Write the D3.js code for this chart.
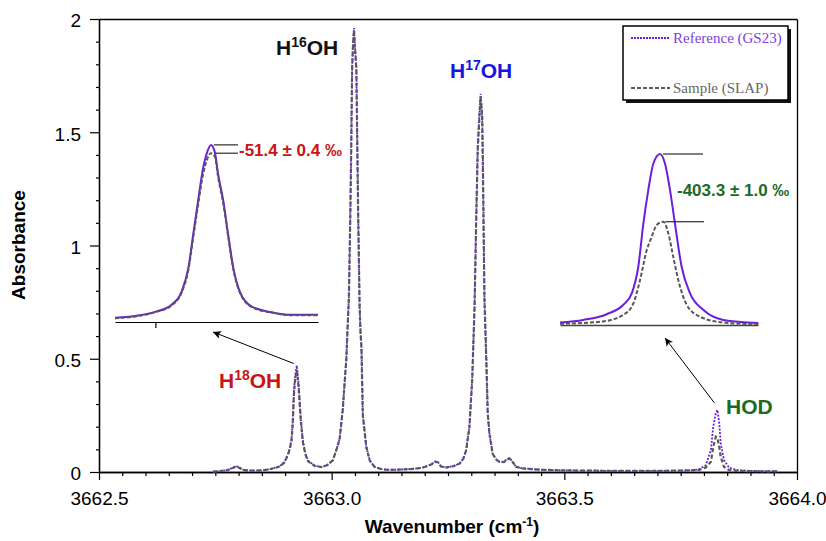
<!DOCTYPE html>
<html>
<head>
<meta charset="utf-8">
<script src="https://cdn.jsdelivr.net/npm/d3@7"></script>
<style>
  body { margin: 0; background: #fff; }
  text { font-family: "Liberation Sans", Arial, Helvetica, sans-serif; }
</style>
</head>
<body>
<div id="chart"></div>
<script>
// ---- main spectrum (wavenumber cm-1, absorbance) ----
// start of scan + H18OH line
const wnH18 = [3662.745, 3662.760, 3662.775, 3662.787, 3662.795, 3662.803, 3662.812, 3662.830, 3662.850, 3662.867,
  3662.888, 3662.899, 3662.908, 3662.9135, 3662.9163, 3662.919, 3662.9217, 3662.925, 3662.929, 3662.9335,
  3662.938, 3662.943, 3662.949, 3662.9635, 3662.978, 3662.990];
const refH18 = [0.002, 0.004, 0.008, 0.018, 0.027, 0.018, 0.008, 0.006, 0.007, 0.012,
  0.025, 0.045, 0.090, 0.140, 0.220, 0.360, 0.430, 0.470, 0.390, 0.240,
  0.140, 0.085, 0.050, 0.028, 0.022, 0.030];
const smpH18 = [0.002, 0.004, 0.008, 0.017, 0.025, 0.017, 0.008, 0.006, 0.007, 0.012,
  0.024, 0.043, 0.086, 0.134, 0.211, 0.345, 0.412, 0.450, 0.374, 0.230,
  0.134, 0.082, 0.048, 0.027, 0.022, 0.030];

// H16OH line
const wnH16 = [3663.002, 3663.009, 3663.017, 3663.024, 3663.028, 3663.0315, 3663.034, 3663.037, 3663.040, 3663.042,
  3663.044, 3663.046, 3663.048, 3663.050, 3663.053, 3663.055, 3663.057, 3663.060, 3663.062, 3663.064,
  3663.067, 3663.0745, 3663.082, 3663.092, 3663.105, 3663.117, 3663.135, 3663.150, 3663.170];
const refH16 = [0.050, 0.090, 0.145, 0.280, 0.400, 0.500, 0.630, 0.770, 1.130, 1.430,
  1.790, 1.900, 1.960, 1.880, 1.790, 1.460, 1.130, 0.740, 0.620, 0.550,
  0.250, 0.110, 0.050, 0.023, 0.014, 0.010, 0.010, 0.011, 0.013];
const smpH16 = [0.050, 0.090, 0.144, 0.278, 0.398, 0.498, 0.627, 0.766, 1.125, 1.425,
  1.780, 1.890, 1.950, 1.875, 1.780, 1.455, 1.125, 0.736, 0.617, 0.548,
  0.249, 0.110, 0.050, 0.023, 0.014, 0.010, 0.010, 0.011, 0.013];

// H17OH line with its two small neighbours
const wnH17 = [3663.185, 3663.200, 3663.215, 3663.222, 3663.228, 3663.235, 3663.246, 3663.262, 3663.275, 3663.283,
  3663.289, 3663.296, 3663.302, 3663.307, 3663.3105, 3663.314, 3663.3176, 3663.320, 3663.3234, 3663.325,
  3663.3283, 3663.332, 3663.3354, 3663.339, 3663.346, 3663.355, 3663.3605, 3663.370, 3663.376, 3663.382,
  3663.388, 3663.396, 3663.410, 3663.430, 3663.450];
const refH17 = [0.016, 0.022, 0.035, 0.047, 0.045, 0.025, 0.020, 0.026, 0.038, 0.060,
  0.097, 0.200, 0.410, 0.730, 1.110, 1.440, 1.585, 1.670, 1.585, 1.350,
  0.770, 0.520, 0.260, 0.170, 0.080, 0.052, 0.045, 0.045, 0.055, 0.062,
  0.048, 0.023, 0.016, 0.013, 0.010];
const smpH17 = [0.016, 0.022, 0.034, 0.045, 0.043, 0.024, 0.020, 0.026, 0.037, 0.059,
  0.096, 0.198, 0.406, 0.724, 1.100, 1.428, 1.572, 1.656, 1.572, 1.340,
  0.765, 0.516, 0.258, 0.169, 0.080, 0.052, 0.045, 0.044, 0.053, 0.060,
  0.047, 0.023, 0.016, 0.013, 0.010];

// HOD line + end of scan
const wnHOD = [3663.500, 3663.550, 3663.600, 3663.650, 3663.700, 3663.750, 3663.780, 3663.790, 3663.804, 3663.815,
  3663.820, 3663.8255, 3663.829, 3663.833, 3663.836, 3663.843, 3663.854, 3663.872, 3663.900, 3663.930, 3663.959];
const refHOD = [0.007, 0.006, 0.005, 0.005, 0.005, 0.006, 0.009, 0.012, 0.030, 0.097,
  0.200, 0.260, 0.274, 0.215, 0.127, 0.053, 0.019, 0.008, 0.005, 0.004, 0.004];
const smpHOD = [0.007, 0.006, 0.005, 0.005, 0.005, 0.006, 0.008, 0.009, 0.020, 0.045,
  0.110, 0.156, 0.150, 0.110, 0.068, 0.023, 0.008, 0.005, 0.004, 0.003, 0.003];

// ---- insets ----
const inset18Wn = [3662.8950, 3662.9022, 3662.9074, 3662.9125, 3662.9156, 3662.9177, 3662.9192, 3662.9207, 3662.9223, 3662.9233,
  3662.9247, 3662.9259, 3662.9269, 3662.9285, 3662.9300, 3662.9316, 3662.9336, 3662.9373, 3662.9434, 3662.9496, 3662.9578];
const inset18Ref = [0.011, 0.017, 0.027, 0.046, 0.081, 0.144, 0.233, 0.322, 0.411, 0.446,
  0.471, 0.451, 0.393, 0.322, 0.233, 0.144, 0.081, 0.041, 0.026, 0.019, 0.019];
const inset18Smp = [0.010, 0.016, 0.026, 0.044, 0.078, 0.139, 0.225, 0.311, 0.395, 0.428,
  0.449, 0.440, 0.385, 0.315, 0.228, 0.140, 0.079, 0.040, 0.025, 0.018, 0.018];

const insetHodWn = [3663.7660, 3663.7807, 3663.7954, 3663.8059, 3663.8112, 3663.8153, 3663.8185, 3663.8216, 3663.8248,
  3663.8290, 3663.8321, 3663.8353, 3663.8384, 3663.8426, 3663.8479, 3663.8562, 3663.8688, 3663.8909];
const insetHodRef = [0.004, 0.008, 0.017, 0.032, 0.050, 0.092, 0.160, 0.213, 0.255,
  0.270, 0.255, 0.213, 0.160, 0.092, 0.050, 0.024, 0.008, 0.003];
const insetHodSmpWn = [3663.7660, 3663.7912, 3663.8059, 3663.8122, 3663.8164, 3663.8206, 3663.8237, 3663.8269,
  3663.8311, 3663.8342, 3663.8373, 3663.8405, 3663.8458, 3663.8542, 3663.8688, 3663.8909];
const insetHodSmp = [0.002, 0.005, 0.016, 0.034, 0.071, 0.118, 0.139, 0.158,
  0.163, 0.145, 0.108, 0.071, 0.032, 0.013, 0.004, 0.001];

// ---- ticks and labels ----
const xMajor = [3662.5, 3663.0, 3663.5, 3664.0];
const yMajor = [0, 0.5, 1, 1.5, 2];
const legendLabels = ["Reference (GS23)", "Sample (SLAP)"];
const peakLabels = [["H", "16", "OH"], ["H", "17", "OH"], ["H", "18", "OH"], ["HOD", "", ""]];
const deltaLabels = ["-51.4 \u00b1 0.4 \u2030", "-403.3 \u00b1 1.0 \u2030"];

const wavenumber = [...wnH18, ...wnH16, ...wnH17, ...wnHOD];
const reference = [...refH18, ...refH16, ...refH17, ...refHOD];
const sample = [...smpH18, ...smpH16, ...smpH17, ...smpHOD];

const purple = "#6b1fdc";
const grey = "#585858";
const red = "#c81414";
const blue = "#1616dc";
const green = "#1b6b24";

const svg = d3.select("#chart")
  .append("svg")
  .attr("width", 826)
  .attr("height", 541);

const x = d3.scaleLinear().domain([3662.5, 3664.0]).range([99, 797]);
const y = d3.scaleLinear().domain([0, 2]).range([472, 19]);

svg.append("defs")
  .append("marker")
  .attr("id", "arrow")
  .attr("markerUnits", "userSpaceOnUse")
  .attr("viewBox", "0 0 10 10")
  .attr("refX", 10)
  .attr("refY", 5)
  .attr("markerWidth", 10)
  .attr("markerHeight", 8)
  .attr("orient", "auto")
  .append("path")
  .attr("d", "M0,0 L10,5 L0,10 L2.5,5 z")
  .attr("fill", "#000");

// ---- axes ----
const styleAxis = g => {
  g.select(".domain").attr("stroke", "#000").attr("stroke-width", 1.3);
  g.selectAll(".tick line").attr("stroke", "#000").attr("stroke-width", 1.2);
  g.selectAll("text")
    .attr("font-family", "'Liberation Sans', Arial, sans-serif")
    .attr("font-size", 19)
    .attr("fill", "#000");
};

const xMinor = d3.range(1, 30).map(i => 3662.5 + i * 0.05).filter(v => Math.abs((v - 3662.5) / 0.5 - Math.round((v - 3662.5) / 0.5)) > 1e-6);
const yMinor = d3.range(1, 20).map(i => i * 0.1).filter(v => Math.abs(v * 2 - Math.round(v * 2)) > 1e-6);

svg.append("g")
  .attr("transform", "translate(0,472)")
  .call(d3.axisBottom(x).tickValues(xMinor).tickSize(4).tickSizeOuter(0).tickFormat(""))
  .call(styleAxis);

svg.append("g")
  .attr("transform", "translate(0,472)")
  .call(d3.axisBottom(x).tickValues(xMajor).tickSize(8).tickSizeOuter(0).tickFormat(d3.format(".1f")))
  .call(styleAxis)
  .call(g => g.selectAll("text").attr("y", 33).attr("dy", 0));

svg.append("g")
  .attr("transform", "translate(99,0)")
  .call(d3.axisLeft(y).tickValues(yMinor).tickSize(3).tickSizeOuter(0).tickFormat(""))
  .call(styleAxis);

svg.append("g")
  .attr("transform", "translate(99,0)")
  .call(d3.axisLeft(y).tickValues(yMajor).tickSize(9).tickSizeOuter(0).tickFormat(d3.format("~g")))
  .call(styleAxis)
  .call(g => g.selectAll("text").attr("x", -18).attr("dy", "0.42em"));

// frame top and right
svg.append("g")
  .attr("transform", "translate(0,19)")
  .call(d3.axisTop(x).tickValues([]).tickSizeOuter(0))
  .call(styleAxis);
svg.append("g")
  .attr("transform", "translate(797,0)")
  .call(d3.axisRight(y).tickValues([]).tickSizeOuter(0))
  .call(styleAxis);

// axis titles
svg.append("text")
  .attr("transform", "translate(25,245) rotate(-90)")
  .attr("text-anchor", "middle")
  .style("font-size", "19px")
  .style("font-weight", "bold")
  .text("Absorbance");

const xTitle = svg.append("text")
  .attr("x", 452)
  .attr("y", 533)
  .attr("text-anchor", "middle")
  .style("font-size", "19px")
  .style("font-weight", "bold");
xTitle.append("tspan").text("Wavenumber (cm");
xTitle.append("tspan").attr("dy", -7).style("font-size", "12px").text("-1");
xTitle.append("tspan").attr("dy", 7).text(")");

// ---- main spectra ----
const idx = d3.range(wavenumber.length);
const mainLine = values => d3.line()
  .x(i => x(wavenumber[i]))
  .y(i => y(values[i]))(idx);

svg.append("path")
  .attr("d", mainLine(reference))
  .attr("fill", "none")
  .attr("stroke", purple)
  .attr("stroke-width", 1.8)
  .attr("stroke-dasharray", "2,1.5");

svg.append("path")
  .attr("d", mainLine(sample))
  .attr("fill", "none")
  .attr("stroke", grey)
  .attr("stroke-width", 2.2)
  .attr("stroke-dasharray", "4,2.5");

// ---- peak labels ----
const peakLabelPos = [[276, 55, "#111"], [450, 78, blue], [219, 388, red], [726, 414, green]];
peakLabels.forEach(([a, sup, b], i) => {
  const [px, py, col] = peakLabelPos[i];
  const t = svg.append("text")
    .attr("x", px)
    .attr("y", py)
    .attr("fill", col)
    .style("font-size", "21px")
    .style("font-weight", "bold");
  t.append("tspan").text(a);
  if (sup) {
    t.append("tspan").attr("dy", -8).style("font-size", "14px").text(sup);
    t.append("tspan").attr("dy", 8).text(b);
  }
});

// ---- inset: H18OH ----
const ix18 = d3.scaleLinear().domain([3662.895, 3662.9578]).range([115, 318]);
const iy18 = d3.scaleLinear().domain([0, 0.5]).range([322, 134]);

svg.append("g")
  .attr("transform", "translate(0,322)")
  .call(d3.axisBottom(ix18).tickValues([3662.9075]).tickSize(6).tickSizeOuter(0).tickFormat(""))
  .call(g => g.select(".domain").attr("stroke", "#000").attr("stroke-width", 1.2))
  .call(g => g.selectAll(".tick line").attr("stroke", "#000").attr("stroke-width", 1.2));

const insetLine = (xs, sx, sy, ys) => d3.line()
  .curve(d3.curveMonotoneX)
  .x(i => sx(xs[i]))
  .y(i => sy(ys[i]))(d3.range(xs.length));

svg.append("path")
  .attr("d", insetLine(inset18Wn, ix18, iy18, inset18Ref))
  .attr("fill", "none").attr("stroke", purple).attr("stroke-width", 2);
svg.append("path")
  .attr("d", insetLine(inset18Wn, ix18, iy18, inset18Smp))
  .attr("fill", "none").attr("stroke", grey).attr("stroke-width", 2).attr("stroke-dasharray", "4,2");

// leaders + delta label
const p18 = d3.maxIndex(inset18Ref);
[[d3.max(inset18Ref), 0], [d3.max(inset18Smp), 1]].forEach(([v, k]) => {
  svg.append("line")
    .attr("x1", ix18(inset18Wn[p18]) + 3 + k * 2).attr("x2", 238)
    .attr("y1", iy18(v)).attr("y2", iy18(v))
    .attr("stroke", "#000").attr("stroke-width", 1);
});
svg.append("text")
  .attr("x", 239)
  .attr("y", 156)
  .attr("fill", red)
  .style("font-size", "17px")
  .style("font-weight", "bold")
  .text(deltaLabels[0]);

// ---- inset: HOD ----
const ixHod = d3.scaleLinear().domain([3663.766, 3663.8907]).range([560, 758]);
const iyHod = d3.scaleLinear().domain([0, 0.3]).range([325, 135]);

svg.append("g")
  .attr("transform", "translate(0,325)")
  .call(d3.axisBottom(ixHod).tickValues([]).tickSizeOuter(0))
  .call(g => g.select(".domain").attr("stroke", "#444").attr("stroke-width", 1.5));

svg.append("path")
  .attr("d", insetLine(insetHodWn, ixHod, iyHod, insetHodRef))
  .attr("fill", "none").attr("stroke", purple).attr("stroke-width", 2);
svg.append("path")
  .attr("d", insetLine(insetHodSmpWn, ixHod, iyHod, insetHodSmp))
  .attr("fill", "none").attr("stroke", grey).attr("stroke-width", 2).attr("stroke-dasharray", "4,2");

const pHodR = d3.maxIndex(insetHodRef);
const pHodS = d3.maxIndex(insetHodSmp);
svg.append("line")
  .attr("x1", ixHod(insetHodWn[pHodR]) + 3).attr("x2", 703)
  .attr("y1", iyHod(insetHodRef[pHodR])).attr("y2", iyHod(insetHodRef[pHodR]))
  .attr("stroke", "#000").attr("stroke-width", 1);
svg.append("line")
  .attr("x1", ixHod(insetHodSmpWn[pHodS]) + 2).attr("x2", 704)
  .attr("y1", iyHod(insetHodSmp[pHodS])).attr("y2", iyHod(insetHodSmp[pHodS]))
  .attr("stroke", "#000").attr("stroke-width", 1);
svg.append("text")
  .attr("x", 677)
  .attr("y", 196)
  .attr("fill", green)
  .style("font-size", "17px")
  .style("font-weight", "bold")
  .text(deltaLabels[1]);

// ---- arrows from peaks to insets ----
const m18 = d3.maxIndex(reference.slice(0, wnH18.length));
svg.append("line")
  .attr("x1", x(wavenumber[m18]) - 3).attr("y1", y(reference[m18]) - 2)
  .attr("x2", ix18(inset18Wn[p18]) + 2).attr("y2", 332)
  .attr("stroke", "#000").attr("stroke-width", 1).attr("marker-end", "url(#arrow)");

const offHod = wnH18.length + wnH16.length + wnH17.length;
const mHod = offHod + d3.maxIndex(refHOD);
svg.append("line")
  .attr("x1", x(wavenumber[mHod]) - 3).attr("y1", y(reference[mHod]) - 7)
  .attr("x2", ixHod(insetHodWn[pHodR]) + 5).attr("y2", 338)
  .attr("stroke", "#000").attr("stroke-width", 1).attr("marker-end", "url(#arrow)");

// ---- legend ----
const legend = svg.append("g");
legend.append("rect")
  .attr("x", 626).attr("y", 29).attr("width", 165).attr("height", 74)
  .attr("fill", "#111");
legend.append("rect")
  .attr("x", 623).attr("y", 26).attr("width", 165).attr("height", 74)
  .attr("fill", "#fff").attr("stroke", "#000").attr("stroke-width", 1.5);

const legendStyle = [[purple, 1.8, "2,1", 38, "#7a3fe0"], [grey, 2, "4,2", 88, "#666"]];
legendLabels.forEach((label, i) => {
  const [col, w, dash, ly, tcol] = legendStyle[i];
  legend.append("line")
    .attr("x1", 631).attr("x2", 670)
    .attr("y1", ly).attr("y2", ly)
    .attr("stroke", col).attr("stroke-width", w).attr("stroke-dasharray", dash);
  legend.append("text")
    .attr("x", 673)
    .attr("y", ly + 5)
    .attr("fill", tcol)
    .style("font-family", "'Liberation Serif', 'Times New Roman', serif")
    .style("font-size", "15px")
    .text(label);
});
</script>
</body>
</html>
